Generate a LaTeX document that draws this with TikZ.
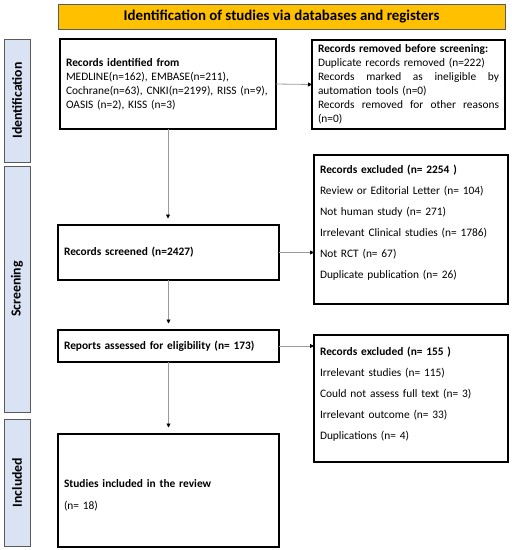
\documentclass[tikz,border=0pt]{standalone}
\usepackage{fontspec}
\setmainfont{Carlito}
\usetikzlibrary{arrows.meta,positioning}
\definecolor{banner}{HTML}{FFC000}
\definecolor{sidefill}{HTML}{DAE3F3}
\definecolor{sideline}{HTML}{5A5A5A}
\definecolor{arrowgray}{HTML}{9A9A9A}
\begin{document}
\begin{tikzpicture}[x=1pt,y=1pt,
  mainbox/.style={draw=black,line width=1.1pt,fill=white,inner sep=0pt,outer sep=0pt,
    align=left,font=\fontsize{11.4}{14}\selectfont},
  sidebox/.style={draw=sideline,line width=0.9pt,fill=sidefill,inner sep=0pt,outer sep=0pt,
    minimum width=26pt},
  sidetext/.style={rotate=90,text=black,font=\fontsize{13.8}{15}\bfseries\selectfont},
  flow/.style={draw=arrowgray,line width=0.8pt,-{Triangle[width=4pt,length=4pt,fill=black,color=black]}}
]
\useasboundingbox (0,0) rectangle (512,-550);
\fill[white] (0,0) rectangle (512,-550);
% banner
\node[draw=sideline,line width=0.9pt,fill=banner,minimum width=447pt,minimum height=25pt,inner sep=0pt,
  font=\fontsize{14.9}{16}\bfseries\selectfont] (banner) at (281.5,-16.5) {Identification of studies via databases and registers};
% side labels
\node[sidebox,minimum height=123pt] (sideid) at (17,-100.5) {};
\node[sidetext] (sideidt) at (sideid.center) {Identification};
\node[sidebox,minimum height=246pt] (sidescr) at (17,-289) {};
\node[sidetext] (sidescrt) at (sidescr.center) {Screening};
\node[sidebox,minimum height=127pt] (sideinc) at (17,-482.5) {};
\node[sidetext] (sideinct) at (sideinc.center) {Included};
% boxes
\node[mainbox,minimum width=216pt,minimum height=90pt,text width=204pt] (ident) at (168,-84)
 {\textbf{Records identified from}\\
  \mbox{MEDLINE(n=162), EMBASE(n=211),}\\
  \mbox{Cochrane(n=63), CNKI(n=2199), RISS (n=9),}\\
  \mbox{OASIS (n=2), KISS (n=3)}};
\node[mainbox,minimum width=193pt,minimum height=89pt,text width=181pt] (removed) at (408.5,-84.5)
 {\mbox{\textbf{Records removed before screening:}}\\
  \mbox{Duplicate records removed (n=222)}\\
  \leavevmode\hbox to 181pt{Records\hfill marked\hfill as\hfill ineligible\hfill by}\\
  automation tools (n=0)\\
  \leavevmode\hbox to 181pt{Records\hfill removed\hfill for\hfill other\hfill reasons}\\
  (n=0)};
\node[mainbox,minimum width=221pt,minimum height=55pt,text width=209pt] (screened) at (168.5,-252.5)
 {\textbf{Records screened (n=2427)}};
\node[mainbox,minimum width=194pt,minimum height=149pt,text width=182pt,
  font=\fontsize{11.4}{21}\selectfont] (excl1) at (411,-229.5)
 {\textbf{Records excluded (n= 2254 )}\\
  \mbox{Review or Editorial Letter (n= 104)}\\
  Not human study (n= 271)\\
  \mbox{Irrelevant Clinical studies (n= 1786)}\\
  Not RCT (n= 67)\\
  Duplicate publication (n= 26)\\[-6pt]\mbox{}};
\node[mainbox,minimum width=221pt,minimum height=32pt,text width=209pt] (assessed) at (168.5,-346)
 {\textbf{Reports assessed for eligibility (n= 173)}};
\node[mainbox,minimum width=194pt,minimum height=127pt,text width=182pt,
  font=\fontsize{11.4}{21}\selectfont] (excl2) at (411,-398.5)
 {\textbf{Records excluded (n= 155 )}\\
  Irrelevant studies (n= 115)\\
  \mbox{Could not assess full text (n= 3)}\\
  Irrelevant outcome (n= 33)\\
  Duplications (n= 4)\\[-10pt]\mbox{}};
\node[mainbox,minimum width=221pt,minimum height=113pt,text width=209pt,
  font=\fontsize{11.4}{22}\selectfont] (included) at (168.5,-490.5)
 {\rule{0pt}{17pt}\textbf{Studies included in the review}\\
  (n= 18)};
% connectors
\draw[flow] (ident.east) -- (removed.west);
\draw[flow,shorten >=6.5pt] (ident.south) -- (ident.south |- screened.north);
\draw[flow] (screened.east) -- (screened.east -| excl1.west);
\draw[flow,shorten >=6.5pt] (screened.south) -- (screened.south |- assessed.north);
\draw[flow] (assessed.east) -- (assessed.east -| excl2.west);
\draw[flow,shorten >=6.5pt] (assessed.south) -- (assessed.south |- included.north);
\end{tikzpicture}
\end{document}
